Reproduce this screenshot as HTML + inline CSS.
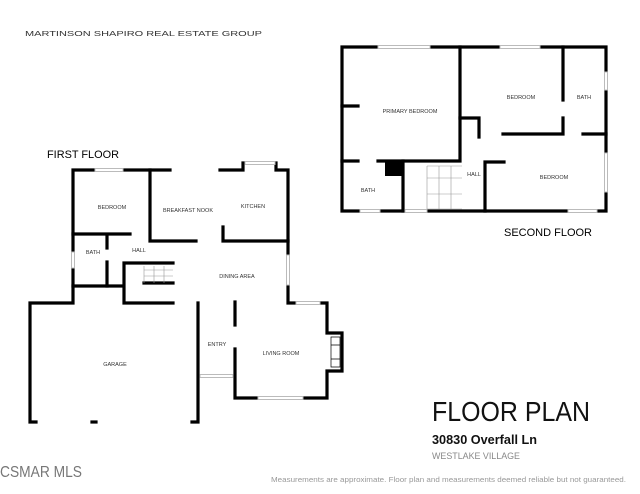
<!DOCTYPE html>
<html><head><meta charset="utf-8"><style>
html,body{margin:0;padding:0;background:#fff;width:640px;height:494px;overflow:hidden}
svg{display:block}
text{font-family:"Liberation Sans",sans-serif}
</style></head><body>
<svg width="640" height="494" viewBox="0 0 640 494" xmlns="http://www.w3.org/2000/svg">
<g fill="none" stroke="#000" stroke-width="3.2" stroke-linecap="square">
<!-- SECOND FLOOR outer -->
<polyline points="378,47 342,47 342,211 360,211"/>
<polyline points="430,47 500,47"/>
<polyline points="540,47 606,47 606,72"/>
<polyline points="606,90 606,153"/>
<polyline points="606,192 606,211 597,211"/>
<polyline points="568,211 427,211"/>
<polyline points="405,211 380,211"/>
<!-- interior -->
<polyline points="342,106 358,106"/>
<polyline points="342,161 358,161"/>
<polyline points="378,161 460,161 460,47"/>
<polyline points="460,118 479,118 479,137"/>
<polyline points="403,161 403,211"/>
<polyline points="503,134 563,134 563,118"/>
<polyline points="563,100 563,47"/>
<polyline points="583,134 606,134"/>
<polyline points="504,162 485,162 485,211"/>
<!-- FIRST FLOOR -->
<polyline points="95,170 73,170 73,252"/>
<polyline points="73,268 73,303 30,303 30,422 36,422"/>
<polyline points="123,170 170,170"/>
<polyline points="150,170 150,241 196,241"/>
<polyline points="220,170 243,170 243,163 245,163"/>
<polyline points="275,163 276,163 276,170 288,170 288,255"/>
<polyline points="288,285 288,303 296,303"/>
<polyline points="320,303 327,303 327,333 342,333 342,371 327,371 327,398 303,398"/>
<polyline points="258,398 235,398 235,349"/>
<polyline points="235,325 235,302"/>
<polyline points="223,227 223,241 288,241"/>
<polyline points="73,234 130,234"/>
<polyline points="73,286 123,286"/>
<polyline points="107,236 107,248"/>
<polyline points="107,262 107,286"/>
<polyline points="173,263 124,263 124,303 173,303"/>
<polyline points="144,283 173,283"/>
<polyline points="198,303 198,422 192,422"/>
<polyline points="92,422 96,422"/>
</g>
<!-- windows -->
<g fill="#fff" stroke="#bbb" stroke-width="1">
<rect x="378" y="45.5" width="52" height="3"/><rect x="500" y="45.5" width="40" height="3"/>
<rect x="604.5" y="72" width="3" height="18"/><rect x="604.5" y="153" width="3" height="39"/>
<rect x="360" y="209.5" width="20" height="3"/><rect x="405" y="209.5" width="22" height="3"/><rect x="568" y="209.5" width="29" height="3"/>
<rect x="95" y="168.5" width="28" height="3"/><rect x="245" y="161.5" width="30" height="3"/>
<rect x="286.5" y="255" width="3" height="30"/><rect x="296" y="301.5" width="24" height="3"/>
<rect x="258" y="396.5" width="45" height="3"/><rect x="71.5" y="252" width="3" height="16"/>
<rect x="200" y="374.5" width="33" height="3"/>
</g>
<rect x="385" y="162" width="18" height="14" fill="#000"/>
<!-- stairs -->
<g stroke="#999" stroke-width="0.6" fill="none">
<path d="M427,166H462M427,178H462M427,194H462M427,209H462M439,166V209M451,166V209M427,166V209"/>
<path d="M144,266V283M154,266V283M164,266V283M144,270H173M144,276H173"/>
</g>
<g stroke="#000" stroke-width="0.7" fill="none"><path d="M331,337h9v30h-9zM331,345h9v14h-9z"/></g>
<!-- labels -->
<g font-size="5.5" fill="#333" text-anchor="middle">
<text x="410" y="113">PRIMARY BEDROOM</text>
<text x="521" y="99">BEDROOM</text>
<text x="584" y="99">BATH</text>
<text x="474" y="176">HALL</text>
<text x="554" y="179">BEDROOM</text>
<text x="368" y="192">BATH</text>
<text x="112" y="209">BEDROOM</text>
<text x="188" y="212">BREAKFAST NOOK</text>
<text x="253" y="208">KITCHEN</text>
<text x="93" y="254">BATH</text>
<text x="139" y="252">HALL</text>
<text x="237" y="278">DINING AREA</text>
<text x="217" y="346">ENTRY</text>
<text x="281" y="355">LIVING ROOM</text>
<text x="115" y="366">GARAGE</text>
</g>
<text x="25" y="36" font-size="7.5" fill="#333" textLength="237" lengthAdjust="spacingAndGlyphs">MARTINSON SHAPIRO REAL ESTATE GROUP</text>
<text x="47" y="158" font-size="11" fill="#000" textLength="72" lengthAdjust="spacingAndGlyphs">FIRST FLOOR</text>
<text x="504" y="236" font-size="11" fill="#000" textLength="88" lengthAdjust="spacingAndGlyphs">SECOND FLOOR</text>
<text x="432" y="421" font-size="28" fill="#111" textLength="158" lengthAdjust="spacingAndGlyphs">FLOOR PLAN</text>
<text x="432" y="444" font-size="12.5" font-weight="bold" fill="#111" textLength="105" lengthAdjust="spacingAndGlyphs">30830 Overfall Ln</text>
<text x="432" y="459" font-size="9" fill="#888" textLength="88" lengthAdjust="spacingAndGlyphs">WESTLAKE VILLAGE</text>
<text x="271" y="482" font-size="7.5" fill="#999" textLength="355" lengthAdjust="spacingAndGlyphs">Measurements are approximate. Floor plan and measurements deemed reliable but not guaranteed.</text>
<text x="0" y="477" font-size="16" fill="#777" textLength="82" lengthAdjust="spacingAndGlyphs">CSMAR MLS</text>
</svg>
</body></html>
